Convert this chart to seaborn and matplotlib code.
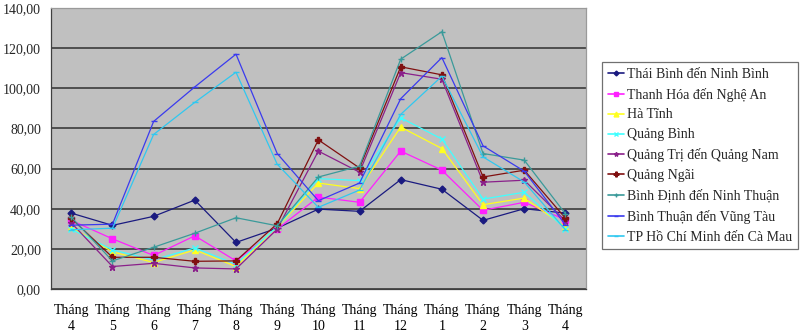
import matplotlib
matplotlib.use("Agg")
import matplotlib.pyplot as plt
import seaborn as sns
import pandas as pd
from matplotlib.ticker import FuncFormatter, MultipleLocator

# Month labels along the x axis (April of one year to April of the next)
months = ["4", "5", "6", "7", "8", "9", "10", "11", "12", "1", "2", "3", "4"]

# Values per region
thai_binh_ninh_binh = [37.8, 31.7, 36.2, 44.3, 23.2, 30.3, 39.8, 38.7, 54.5, 49.7, 34.2, 40.0, 37.8]
thanh_hoa_nghe_an = [34.2, 25.0, 16.7, 26.5, 14.0, 29.8, 45.8, 43.2, 68.7, 59.2, 39.2, 43.2, 34.5]
ha_tinh = [30.8, 18.5, 13.2, 19.5, 11.2, 30.8, 52.8, 50.0, 80.7, 70.0, 42.0, 45.3, 31.0]
quang_binh = [29.8, 19.5, 14.5, 20.5, 12.3, 31.0, 55.0, 54.0, 85.3, 74.7, 44.8, 48.2, 30.0]
quang_tri_quang_nam = [33.0, 11.2, 12.8, 10.5, 10.0, 29.8, 68.7, 58.2, 107.8, 104.5, 53.2, 54.2, 34.0]
quang_ngai = [35.2, 15.8, 15.8, 13.8, 14.0, 32.5, 74.3, 60.3, 110.7, 106.7, 55.8, 59.2, 35.3]
binh_dinh_ninh_thuan = [35.8, 14.0, 20.8, 27.8, 35.5, 31.5, 55.8, 61.2, 114.5, 128.2, 67.5, 64.2, 37.5]
binh_thuan_vung_tau = [31.8, 32.3, 83.5, 100.7, 117.0, 67.5, 44.0, 52.8, 94.8, 115.3, 71.3, 58.7, 32.0]
tphcm_ca_mau = [29.5, 30.3, 77.0, 93.0, 108.0, 62.2, 40.7, 49.3, 87.0, 106.0, 65.8, 53.3, 29.5]

series_names = [
    "Thái Bình đến Ninh Bình",
    "Thanh Hóa đến Nghệ An",
    "Hà Tĩnh",
    "Quảng Bình",
    "Quảng Trị đến Quảng Nam",
    "Quảng Ngãi",
    "Bình Định đến Ninh Thuận",
    "Bình Thuận đến Vũng Tàu",
    "TP Hồ Chí Minh đến Cà Mau",
]
series_values = [
    thai_binh_ninh_binh, thanh_hoa_nghe_an, ha_tinh, quang_binh,
    quang_tri_quang_nam, quang_ngai, binh_dinh_ninh_thuan,
    binh_thuan_vung_tau, tphcm_ca_mau,
]

colors = ["#1a1a80", "#ff20ff", "#ffff20", "#40ffff", "#8a208a",
          "#801010", "#3a9a9a", "#3a3aee", "#30c8f0"]
markers = ["D", "s", "^", "x", "*", "P", "+", "_", "_"]
msizes = [3.5, 4.5, 5, 4.5, 4.5, 5, 4.5, 4, 4]

rows = []
for name, vals in zip(series_names, series_values):
    for i, v in enumerate(vals):
        rows.append({"pos": i, "value": v, "series": name})
df = pd.DataFrame(rows)

sns.set_style("white")
plt.rcParams["font.family"] = ["Liberation Serif", "DejaVu Serif"]
plt.rcParams["font.size"] = 10

fig = plt.figure(figsize=(8.0, 3.34), dpi=100)
ax = fig.add_axes([50.7 / 800, 45 / 334, (586 - 50.7) / 800, (289 - 8) / 334])
ax.set_facecolor("#c0c0c0")

# one call per region so filled and line-art markers can be combined
for name, c, m, s in zip(series_names, colors, markers, msizes):
    sns.lineplot(
        data=df[df["series"] == name], x="pos", y="value",
        color=c, marker=m, markersize=s, markeredgewidth=1.0,
        markeredgecolor=c, linewidth=0.9, ax=ax, legend=False, zorder=3,
    )

ax.set_xlim(-0.5, len(months) - 0.5)
ax.set_ylim(0, 140)
ax.yaxis.set_major_locator(MultipleLocator(20))
ax.yaxis.set_major_formatter(FuncFormatter(lambda v, _: f"{v:.2f}".replace(".", ",")))
ax.grid(axis="y", color="#303030", linewidth=1.1, zorder=1)
ax.set_axisbelow(True)

ax.set_xticks(range(len(months)))
ax.set_xticklabels([f"Tháng\n{m}" for m in months], linespacing=1.25)
ax.set_xticks([i - 0.5 for i in range(len(months) + 1)], minor=True)
ax.tick_params(axis="x", which="major", length=0, pad=11, labelsize=10, colors="black")
ax.tick_params(axis="x", which="minor", length=4, width=0.8, color="#404040", direction="out")
ax.tick_params(axis="y", which="major", length=4, width=0.8, color="#404040", pad=3, labelsize=10)
ax.set_xlabel("")
ax.set_ylabel("")

for side in ["left", "bottom"]:
    ax.spines[side].set_color("#404040")
    ax.spines[side].set_linewidth(0.9)
for side in ["top", "right"]:
    ax.spines[side].set_color("#9a9a9a")
    ax.spines[side].set_linewidth(0.9)

handles = [
    plt.Line2D([], [], color=c, marker=m, markersize=s * 0.7, linewidth=1.2)
    for c, m, s in zip(colors, markers, msizes)
]
leg = fig.legend(
    handles, series_names, loc="upper left",
    bbox_to_anchor=(602 / 800, 1 - 62 / 334), bbox_transform=fig.transFigure,
    frameon=True, fancybox=False, framealpha=1, edgecolor="#707070",
    handlelength=1.15, handletextpad=0.25, labelspacing=0.5,
    borderpad=0.4, borderaxespad=0, fontsize=10,
)
leg.get_frame().set_linewidth(0.9)

fig.savefig("out.png", dpi=100, facecolor="white")
